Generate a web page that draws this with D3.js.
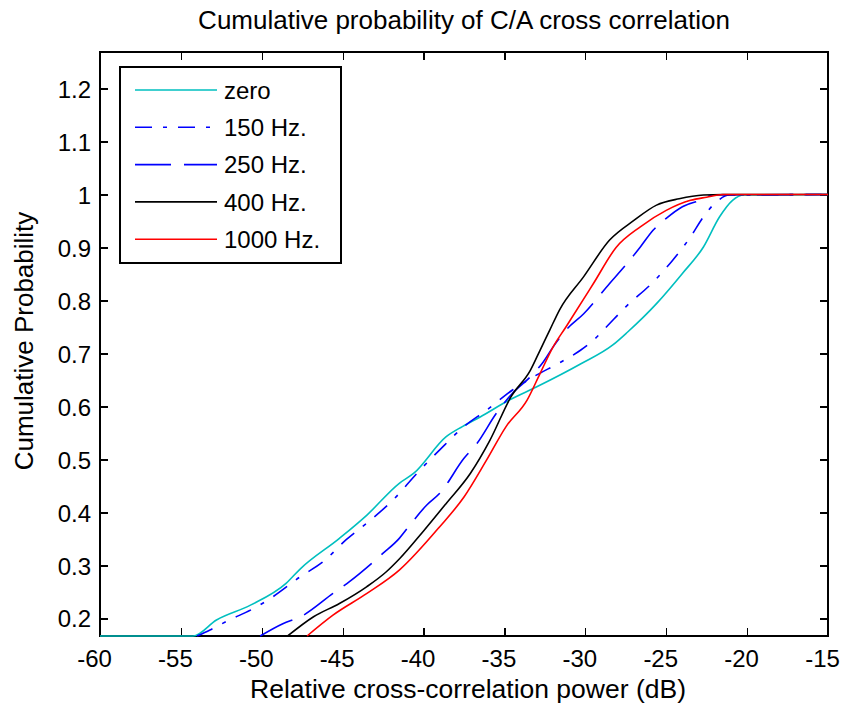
<!DOCTYPE html>
<html lang="en">
<head>
<meta charset="UTF-8">
<title>Cumulative probability of C/A cross correlation</title>
<script src="https://d3js.org/d3.v7.min.js"></script>
<style>
  body { margin: 0; background: #fff; }
  text { font-family: "Liberation Sans", Arial, sans-serif; fill: #000; }
</style>
</head>
<body>
<div id="chart"></div>
<script>
// series: x in dB, y cumulative probability
var xZero = [-60, -54.25, -52.8, -50.7, -48.5, -47.6, -45.2, -43.5, -41.5, -40.6, -38.6, -37.6, -36.5, -34.7, -33.0, -30.3, -28.3, -27.4, -25.6, -24.0, -22.7, -21.7, -20.9, -20.2, -15];
var pZero = [0.1667, 0.1667, 0.197, 0.225, 0.266, 0.294, 0.351, 0.395, 0.455, 0.474, 0.543, 0.562, 0.580, 0.612, 0.637, 0.680, 0.716, 0.740, 0.794, 0.851, 0.901, 0.958, 0.989, 0.999, 1.0];

var x150 = [-54.0, -53.2, -52.2, -50.3, -49.3, -47.6, -46.2, -44.8, -43.3, -41.9, -40.4, -39.0, -37.5, -36.1, -34.5, -33.2, -31.5, -30.3, -29.5, -28.7, -27.5, -25.8, -24.6, -23.5, -22.7, -21.9, -21.1, -15];
var p150 = [0.1667, 0.178, 0.194, 0.222, 0.241, 0.279, 0.307, 0.348, 0.385, 0.423, 0.474, 0.518, 0.562, 0.593, 0.631, 0.656, 0.684, 0.706, 0.725, 0.750, 0.788, 0.835, 0.876, 0.920, 0.958, 0.986, 0.999, 1.0];

var x250 = [-50.1, -48.7, -47.6, -45.6, -44.6, -42.5, -41.5, -41.0, -39.8, -39.0, -37.5, -36.7, -35.5, -34.5, -33.4, -32.6, -32.0, -31.2, -30.1, -28.5, -27.5, -26.6, -25.8, -25.0, -24.0, -22.9, -22.1, -15];
var p250 = [0.1667, 0.190, 0.203, 0.247, 0.269, 0.323, 0.351, 0.370, 0.414, 0.436, 0.502, 0.530, 0.587, 0.625, 0.656, 0.684, 0.712, 0.744, 0.775, 0.832, 0.867, 0.901, 0.933, 0.955, 0.977, 0.989, 0.999, 1.0];

var x400 = [-48.4, -46.8, -45.2, -43.5, -42.3, -41.5, -40.0, -38.6, -37.1, -35.9, -34.6, -33.4, -32.8, -32.2, -31.6, -30.1, -28.5, -27.0, -25.6, -24.2, -22.7, -21.5, -15];
var p400 = [0.1667, 0.203, 0.228, 0.260, 0.288, 0.312, 0.365, 0.417, 0.474, 0.536, 0.618, 0.668, 0.706, 0.744, 0.782, 0.845, 0.914, 0.951, 0.980, 0.992, 0.999, 1.0, 1.0];

var x1000 = [-47.2, -45.6, -43.5, -41.5, -39.0, -37.5, -36.1, -34.9, -33.6, -32.8, -32.0, -31.2, -29.5, -28.1, -26.6, -25.0, -23.5, -22.5, -21.5, -15];
var p1000 = [0.1667, 0.206, 0.247, 0.291, 0.373, 0.429, 0.499, 0.562, 0.612, 0.662, 0.712, 0.750, 0.832, 0.900, 0.939, 0.970, 0.989, 0.995, 1.0, 1.0];

var seriesNames = ["zero", "150 Hz.", "250 Hz.", "400 Hz.", "1000 Hz."];
var xTicks = [-60, -55, -50, -45, -40, -35, -30, -25, -20, -15];
var yTicks = [0.2, 0.3, 0.4, 0.5, 0.6, 0.7, 0.8, 0.9, 1.0, 1.1, 1.2];

var series = [
  {name: seriesNames[0], xs: xZero, ps: pZero, color: "#00bfbf", dash: null},
  {name: seriesNames[1], xs: x150, ps: p150, color: "#0000ff", dash: "17,11,4,11"},
  {name: seriesNames[2], xs: x250, ps: p250, color: "#0000ff", dash: "36,13"},
  {name: seriesNames[3], xs: x400, ps: p400, color: "#000000", dash: null},
  {name: seriesNames[4], xs: x1000, ps: p1000, color: "#ff0000", dash: null}
];

var width = 842, height = 707;
var plotL = 100, plotR = 828, plotT = 52, plotB = 636;

var svg = d3.select("#chart").append("svg")
    .attr("width", width)
    .attr("height", height);

var x = d3.scaleLinear().domain([-60, -15]).range([plotL, plotR]);
var y = d3.scaleLinear().domain([0.1667, 1.269]).range([plotB, plotT]);

// axes box with inward ticks on all four sides
svg.append("rect")
    .attr("x", plotL).attr("y", plotT)
    .attr("width", plotR - plotL).attr("height", plotB - plotT)
    .attr("fill", "none").attr("stroke", "#000").attr("stroke-width", 1.3)
    .attr("shape-rendering", "crispEdges");

var gx = svg.append("g").attr("transform", "translate(0," + plotB + ")")
    .call(d3.axisBottom(x).tickValues(xTicks).tickSize(-8).tickSizeOuter(0));
svg.append("g").attr("transform", "translate(0," + plotT + ")")
    .call(d3.axisTop(x).tickValues(xTicks).tickSize(-8).tickSizeOuter(0).tickFormat(""));
var gy = svg.append("g").attr("transform", "translate(" + plotL + ",0)")
    .call(d3.axisLeft(y).tickValues(yTicks).tickSize(-8).tickSizeOuter(0)
      .tickFormat(function(d) { return d === 1 ? "1" : d3.format(".1f")(d); }));
svg.append("g").attr("transform", "translate(" + plotR + ",0)")
    .call(d3.axisRight(y).tickValues(yTicks).tickSize(-8).tickSizeOuter(0).tickFormat(""));

svg.selectAll(".domain").remove();
svg.selectAll(".tick line").attr("stroke", "#000").attr("stroke-width", 1.3)
    .attr("shape-rendering", "crispEdges");
svg.selectAll("g").attr("font-family", null).attr("font-size", null);

gx.selectAll(".tick text")
    .attr("y", 31).attr("dy", 0).attr("x", -6)
    .attr("fill", "#000")
    .style("font-size", "24px")
    .text(function(d) { return String(d); });
gy.selectAll(".tick text")
    .attr("x", -9).attr("dy", "0.36em")
    .attr("fill", "#000")
    .style("font-size", "24px");

// curves
var line = d3.line()
    .curve(d3.curveMonotoneX)
    .x(function(d) { return x(d[0]); })
    .y(function(d) { return y(d[1]); });

series.forEach(function(s) {
  var pts = s.xs.map(function(v, i) { return [v, s.ps[i]]; });
  svg.append("path")
      .datum(pts)
      .attr("d", line)
      .attr("fill", "none")
      .attr("stroke", s.color)
      .attr("stroke-width", 1.6)
      .attr("stroke-dasharray", s.dash);
});

// legend
var lg = svg.append("g");
lg.append("rect")
    .attr("x", 120).attr("y", 67)
    .attr("width", 221).attr("height", 196)
    .attr("fill", "#fff").attr("stroke", "#000").attr("stroke-width", 1.3)
    .attr("shape-rendering", "crispEdges");
series.forEach(function(s, i) {
  var yy = 90 + i * 37.3;
  lg.append("line")
      .attr("x1", 135).attr("x2", 217).attr("y1", yy).attr("y2", yy)
      .attr("stroke", s.color).attr("stroke-width", 1.6)
      .attr("stroke-dasharray", s.dash);
  lg.append("text")
      .attr("x", 224).attr("y", yy).attr("dy", "0.36em")
      .style("font-size", "24px")
      .text(s.name);
});

// title and axis labels
svg.append("text")
    .attr("x", (plotL + plotR) / 2).attr("y", 29)
    .attr("text-anchor", "middle")
    .style("font-size", "26px")
    .text("Cumulative probability of C/A cross correlation");

svg.append("text")
    .attr("x", 468).attr("y", 698)
    .attr("text-anchor", "middle")
    .style("font-size", "26.5px")
    .text("Relative cross-correlation power (dB)");

svg.append("text")
    .attr("transform", "translate(33,341) rotate(-90)")
    .attr("text-anchor", "middle")
    .style("font-size", "26px")
    .text("Cumulative Probability");
</script>
</body>
</html>
